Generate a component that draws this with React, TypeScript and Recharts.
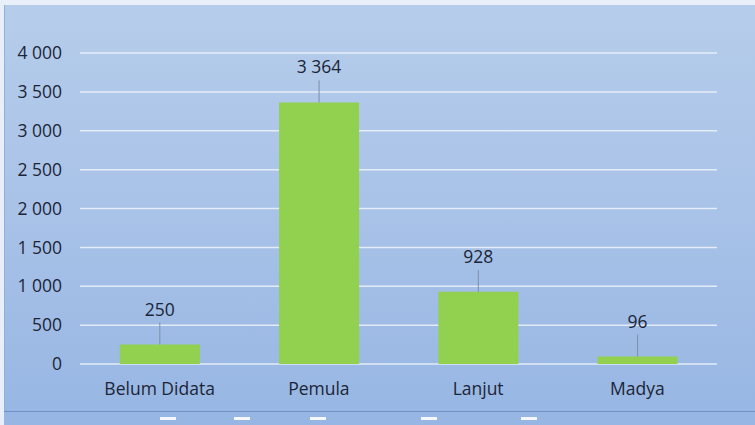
import React from "react";
import {
  BarChart,
  Bar,
  XAxis,
  YAxis,
  CartesianGrid,
  LabelList,
} from "recharts";

const categories = ["Belum Didata", "Pemula", "Lanjut", "Madya"];
const counts = [250, 3364, 928, 96];
const yTicks = [0, 500, 1000, 1500, 2000, 2500, 3000, 3500, 4000];
const boundaryTicks = [0, 1, 2, 3, 4];

const data = categories.map((name, i) => ({ name, idx: i + 0.5, count: counts[i] }));

// "3 364", "4 000" — space as thousands separator, like the original
const fmt = (v: number) => String(v).replace(/\B(?=(\d{3})+(?!\d))/g, " ");

const textColor = "#1c2536";
const font = "'Open Sans', sans-serif";
const fontSize = 17.5;

const BarLabel = (props: any) => {
  const { x, y, width, value } = props;
  const cx = x + width / 2;
  return (
    <g>
      <line x1={cx} y1={y - 22} x2={cx} y2={y} stroke="#7f8ea6" strokeWidth={1} />
      <text
        x={cx}
        y={y - 29}
        textAnchor="middle"
        fill={textColor}
        fontSize={fontSize}
        fontFamily={font}
      >
        {fmt(value)}
      </text>
    </g>
  );
};

export default function App() {
  return (
    <div
      style={{
        position: "absolute",
        left: 0,
        top: 0,
        width: 755,
        height: 425,
        background: "#e9eff8",
        overflow: "hidden",
      }}
    >
      <div
        style={{
          position: "absolute",
          left: 4,
          top: 5,
          width: 751,
          height: 420,
          background: "linear-gradient(180deg, #b6cdea 0%, #a8c2e8 50%, #97b6e3 100%)",
          borderLeft: "1px solid #8fb0dc",
        }}
      />
      <div
        style={{
          position: "absolute",
          left: 4,
          top: 411,
          width: 751,
          height: 14,
          borderTop: "1px solid #6f8fc6",
          background: "#98b6e3",
        }}
      />
      {[160, 234, 310, 421, 521].map((l) => (
        <div
          key={l}
          style={{
            position: "absolute",
            left: l,
            top: 417,
            width: 16,
            height: 3,
            background: "#f4f8fd",
          }}
        />
      ))}
      <div style={{ position: "absolute", left: 0, top: 0 }}>
        <BarChart
          width={755}
          height={425}
          data={data}
          margin={{ top: 53, right: 38, left: 0, bottom: 21 }}
          barCategoryGap="25%"
        >
          <CartesianGrid
            vertical={false}
            stroke="#eef3fa"
            strokeOpacity={0.85}
            strokeWidth={1.5}
          />
          <XAxis
            xAxisId="edge"
            type="number"
            dataKey="idx"
            domain={[0, 4]}
            ticks={boundaryTicks}
            height={0}
            tick={false}
            tickSize={5}
            axisLine={{ stroke: "#eef3fa", strokeWidth: 1.5 }}
            tickLine={{ stroke: "#eef3fa", strokeWidth: 1.5 }}
          />
          <XAxis
            dataKey="name"
            height={40}
            axisLine={false}
            tickLine={false}
            tickSize={0}
            tickMargin={19}
            tick={{ fill: textColor, fontSize, fontFamily: font }}
          />
          <YAxis
            width={80}
            domain={[0, 4000]}
            ticks={yTicks}
            axisLine={false}
            tickLine={false}
            tickSize={0}
            tickMargin={18}
            tickFormatter={fmt}
            tick={{ fill: textColor, fontSize, fontFamily: font }}
          />
          <Bar dataKey="count" fill="#92d050" isAnimationActive={false}>
            <LabelList dataKey="count" content={<BarLabel />} />
          </Bar>
        </BarChart>
      </div>
    </div>
  );
}
